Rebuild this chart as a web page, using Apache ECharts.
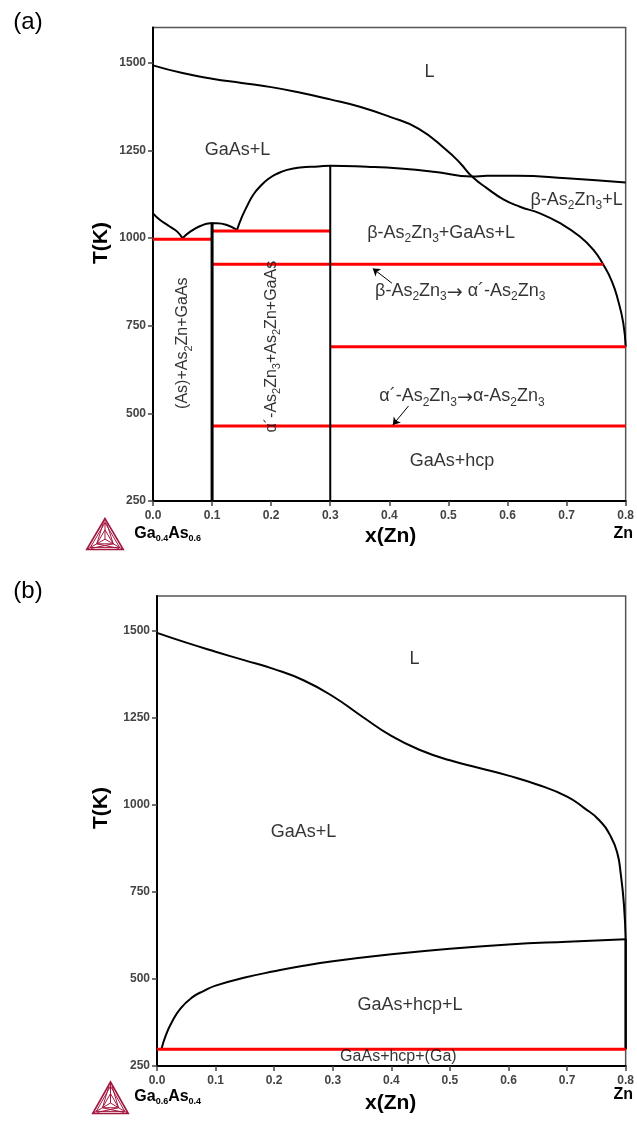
<!DOCTYPE html>
<html>
<head>
<meta charset="utf-8">
<script src="https://cdn.jsdelivr.net/npm/echarts@6/dist/echarts.min.js"></script>
<style>html,body{margin:0;padding:0;background:#fff}#c{width:637px;height:1122px}</style>
</head>
<body>
<div id="c"></div>
<script>
// ---------- tick labels ----------
const xTickValues = [0, 0.1, 0.2, 0.3, 0.4, 0.5, 0.6, 0.7, 0.8];
const yTickValues = [250, 500, 750, 1000, 1250, 1500];

// ---------- panel (a): Ga0.4As0.6 - Zn ----------
const aLiquidus = [[0,1492],[0.05,1470],[0.1,1454],[0.15,1442],[0.2,1430],[0.25,1414],[0.3,1395],[0.35,1374],[0.4,1346],[0.45,1311],[0.497,1250],[0.52,1213],[0.54,1175],[0.565,1142],[0.593,1110],[0.621,1089],[0.655,1070],[0.689,1042],[0.7225,1004],[0.7455,966],[0.7625,923],[0.777,875],[0.787,823],[0.796,757],[0.8,690]];
const aDomeLeft = [[0,1070],[0.012,1051],[0.029,1032],[0.041,1018],[0.05,999]];
const aDomeMid = [[0.05,999],[0.063,1018],[0.08,1034],[0.097,1042],[0.108,1042],[0.125,1037],[0.142,1023]];
const aSolvus = [[0.142,1022],[0.150,1058],[0.159,1090],[0.170,1124],[0.182,1148],[0.195,1168],[0.21,1183],[0.227,1194],[0.249,1201],[0.28,1204],[0.3,1206],[0.362,1203],[0.418,1198],[0.475,1189],[0.54,1175],[0.565,1177],[0.616,1177],[0.70,1170],[0.8,1158]];
const aVertical1 = [[0.1,1044],[0.1,250]];
const aVertical2 = [[0.3,1206],[0.3,250]];
const aRed1 = [[0,996],[0.1,996]];
const aRed2 = [[0.1,1020],[0.3,1020]];
const aRed3 = [[0.1,925],[0.762,925]];
const aRed4 = [[0.3,690],[0.8,690]];
const aRed5 = [[0.1,464],[0.8,464]];
const aArrows = [[[0.4044,871],[0.372,913]], [[0.4325,521],[0.406,467]]];
const aLabels = ['L','GaAs+L','β-As_2Zn_3+L','β-As_2Zn_3+GaAs+L','β-As_2Zn_3→ α´-As_2Zn_3','α´-As_2Zn_3→α-As_2Zn_3','GaAs+hcp','(As)+As_2Zn+GaAs','α´-As_2Zn_3+As_2Zn+GaAs'];
const aLabelAnchors = [[0.468,1474],[0.143,1250],[0.717,1108],[0.4875,1014],[0.52,849],[0.523,548],[0.506,363],[0.0508,700],[0.201,690]];
const aLabelVertical = [false,false,false,false,false,false,false,true,true];

// ---------- panel (b): Ga0.6As0.4 - Zn ----------
const bLiquidus = [[0,1494],[0.05,1466],[0.1,1440],[0.15,1415],[0.2,1390],[0.25,1358],[0.3,1312],[0.35,1254],[0.4,1198],[0.45,1157],[0.5,1128],[0.55,1106],[0.6,1084],[0.65,1058],[0.7,1024],[0.73,990],[0.755,956],[0.775,908],[0.786,860],[0.7915,803],[0.797,715],[0.8,615]];
const bSolidus = [[0.008,301],[0.015,338],[0.025,375],[0.04,415],[0.06,447],[0.08,466],[0.1,481],[0.15,504],[0.2,522],[0.25,538],[0.3,551],[0.4,571],[0.5,587],[0.6,599],[0.7,607],[0.8,614]];
const bVertical = [[0.8,615],[0.8,298]];
const bRed = [[0,298],[0.8,298]];
const bLabels = ['L','GaAs+L','GaAs+hcp+L','GaAs+hcp+(Ga)'];
const bLabelAnchors = [[0.4395,1420],[0.25,923],[0.432,425],[0.412,278]];
const bLabelSmall = [false,false,false,true];

// ---------- styling ----------
const FONT = '"Liberation Sans", Arial, Helvetica, sans-serif';
const RED = '#ff0000';
const LOGO = '#a3173f';

function chem(s, m, sub, ar) {
  let out = '', buf = '';
  const flush = () => { if (buf) { out += '{' + m + '|' + buf + '}'; buf = ''; } };
  for (let i = 0; i < s.length; i++) {
    if (s[i] === '_') {
      flush();
      out += '{' + sub + '|' + s[i + 1] + '}';
      i++;
    } else if (s[i] === '→') {
      flush();
      out += '{' + ar + '|→}';
    } else buf += s[i];
  }
  flush();
  return out;
}

const rich = {
  m: {fontSize: 18, fontFamily: FONT, color: '#000', lineHeight: 24},
  s: {fontSize: 12, fontFamily: FONT, color: '#000', lineHeight: 12, verticalAlign: 'bottom'},
  ar: {fontSize: 19, fontFamily: '"DejaVu Sans", sans-serif', color: '#000', lineHeight: 24, padding: [4, 0, 0, 0]},
  m16: {fontSize: 16, fontFamily: FONT, color: '#000', lineHeight: 22},
  s16: {fontSize: 11, fontFamily: FONT, color: '#000', lineHeight: 11, verticalAlign: 'bottom'},
  ar16: {fontSize: 16, fontFamily: '"DejaVu Sans", sans-serif', color: '#000', lineHeight: 22}
};

function lineS(data, g, color, width, smooth, z) {
  return {type: 'line', xAxisIndex: g, yAxisIndex: g, data: data, symbol: 'none', showSymbol: false,
    smooth: smooth, silent: true, animation: false, z: z || 2,
    lineStyle: {color: color, width: width, cap: 'butt'}};
}

function xAx(g) {
  return {type: 'value', gridIndex: g, min: 0, max: 0.8, interval: 0.1,
    axisLine: {show: true, onZero: false, lineStyle: {color: '#000', width: 2}},
    axisTick: {show: true, length: 5, customValues: xTickValues, lineStyle: {color: '#444', width: 1.5}},
    axisLabel: {show: true, customValues: xTickValues, formatter: v => Number(v).toFixed(1),
      color: '#444', fontWeight: 'bold', fontSize: 12, fontFamily: FONT, margin: 9},
    splitLine: {show: false}};
}
function yAx(g) {
  return {type: 'value', gridIndex: g, min: 250, max: 1600, interval: 250,
    axisLine: {show: true, onZero: false, lineStyle: {color: '#000', width: 2}},
    axisTick: {show: true, length: 5, customValues: yTickValues, lineStyle: {color: '#444', width: 1.5}},
    axisLabel: {show: true, customValues: yTickValues, formatter: v => String(Math.round(v)),
      color: '#444', fontWeight: 'bold', fontSize: 12, fontFamily: FONT, margin: 7},
    splitLine: {show: false}};
}

function labelSeries(g, texts, anchors, opts) {
  return {type: 'scatter', xAxisIndex: g, yAxisIndex: g, symbolSize: 0, silent: true, animation: false, z: 5,
    label: {show: true, position: 'inside', color: '#000', rich: rich},
    data: texts.map((t, i) => {
      const small = opts[i];
      const vertical = small && g === 0;
      return {value: anchors[i], label: {
        formatter: small ? chem(t, 'm16', 's16', 'ar16') : chem(t, 'm', 's', 'ar'),
        rotate: vertical ? 90 : 0}};
    })};
}

function arrowSeries(g, arrows) {
  return {type: 'lines', coordinateSystem: 'cartesian2d', xAxisIndex: g, yAxisIndex: g, silent: true,
    animation: false, z: 6, symbol: ['none', 'arrow'], symbolSize: 7,
    lineStyle: {color: '#000', width: 1, opacity: 1, curveness: 0},
    data: arrows.map(c => ({coords: c}))};
}

function logo(cx, top, w, h) {
  const A = [cx, top], B = [cx - w / 2, top + h], C = [cx + w / 2, top + h];
  const G = [cx, top + h * 2 / 3];
  const sc = (p, k) => [G[0] + (p[0] - G[0]) * k, G[1] + (p[1] - G[1]) * k];
  const st = {fill: 'none', stroke: LOGO, lineWidth: 1.6};
  const st2 = {fill: 'none', stroke: LOGO, lineWidth: 1};
  return [
    {type: 'polygon', shape: {points: [A, B, C]}, style: st, silent: true},
    {type: 'polygon', shape: {points: [sc(A, 0.8), sc(B, 0.8), sc(C, 0.8)]}, style: st2, silent: true},
    {type: 'polygon', shape: {points: [sc(A, 0.45), sc(B, 0.45), sc(C, 0.45)]}, style: st2, silent: true},
    {type: 'polyline', shape: {points: [A, G]}, style: st2, silent: true},
    {type: 'polyline', shape: {points: [B, G]}, style: st2, silent: true},
    {type: 'polyline', shape: {points: [C, G]}, style: st2, silent: true},
    {type: 'polyline', shape: {points: [[A[0] - 1.5, A[1] + 4], sc(B, 0.45)]}, style: st2, silent: true},
    {type: 'polyline', shape: {points: [[A[0] + 1.5, A[1] + 4], sc(C, 0.45)]}, style: st2, silent: true},
    {type: 'polyline', shape: {points: [[B[0] + 4, B[1] - 1], sc(C, 0.45)]}, style: st2, silent: true},
    {type: 'polyline', shape: {points: [[C[0] - 4, C[1] - 1], sc(B, 0.45)]}, style: st2, silent: true}
  ];
}

function txt(x, y, text, font, rot, align) {
  return {type: 'text', x: x, y: y, rotation: rot || 0, silent: true,
    style: {text: text, x: 0, y: 0, font: font, fill: '#000', align: align || 'center', verticalAlign: 'middle'}};
}
function formula(x, y, a, b, c, d) {
  return {type: 'text', x: x, y: y, silent: true,
    style: {text: '{m|' + a + '}{s|' + b + '}{m|' + c + '}{s|' + d + '}', x: 0, y: 0, align: 'left', verticalAlign: 'middle',
      rich: {
        m: {fontSize: 16, fontWeight: 'bold', fontFamily: FONT, fill: '#000', lineHeight: 20},
        s: {fontSize: 9, fontWeight: 'bold', fontFamily: FONT, fill: '#000', lineHeight: 9, verticalAlign: 'bottom'}
      }}};
}

const series = [
  lineS(aLiquidus, 0, '#000', 2, true),
  lineS(aDomeLeft, 0, '#000', 2, true),
  lineS(aDomeMid, 0, '#000', 2, true),
  lineS(aSolvus, 0, '#000', 2, true),
  lineS(aRed1, 0, RED, 3, false, 3),
  lineS(aRed2, 0, RED, 3, false, 3),
  lineS(aRed3, 0, RED, 3, false, 3),
  lineS(aRed4, 0, RED, 3, false, 3),
  lineS(aRed5, 0, RED, 3, false, 3),
  lineS(aVertical1, 0, '#000', 3, false, 4),
  lineS(aVertical2, 0, '#000', 2, false, 4),
  arrowSeries(0, aArrows),
  labelSeries(0, aLabels, aLabelAnchors, aLabelVertical),
  lineS(bLiquidus, 1, '#000', 2, true),
  lineS(bSolidus, 1, '#000', 2, true),
  lineS(bVertical, 1, '#000', 2.5, false),
  lineS(bRed, 1, RED, 3, false, 3),
  labelSeries(1, bLabels, bLabelAnchors, bLabelSmall)
];

const graphics = [].concat(
  [
    txt(28, 22, '(a)', '24px ' + FONT),
    txt(28, 591, '(b)', '24px ' + FONT),
    txt(101.7, 243, 'T(K)', 'bold 21px ' + FONT, Math.PI / 2),
    txt(101.7, 808, 'T(K)', 'bold 21px ' + FONT, Math.PI / 2),
    txt(390.7, 536, 'x(Zn)', 'bold 21px ' + FONT),
    txt(390.7, 1103, 'x(Zn)', 'bold 21px ' + FONT),
    txt(623.3, 534, 'Zn', 'bold 16px ' + FONT),
    txt(623.3, 1095, 'Zn', 'bold 16px ' + FONT),
    formula(134.3, 533.5, 'Ga', '0.4', 'As', '0.6'),
    formula(134.3, 1096.5, 'Ga', '0.6', 'As', '0.4')
  ],
  logo(105, 518.5, 36.6, 31),
  logo(110.5, 1082, 35.6, 31.5)
);

const chart = echarts.init(document.getElementById('c'), null, {renderer: 'canvas'});
chart.setOption({
  animation: false,
  backgroundColor: '#fff',
  textStyle: {fontFamily: FONT},
  grid: [
    {left: 153, top: 27.5, width: 473, height: 473.5, show: true, borderColor: '#555', borderWidth: 1.5, backgroundColor: 'transparent', containLabel: false},
    {left: 157, top: 596, width: 470, height: 470, show: true, borderColor: '#555', borderWidth: 1.5, backgroundColor: 'transparent', containLabel: false}
  ],
  xAxis: [xAx(0), xAx(1)],
  yAxis: [yAx(0), yAx(1)],
  series: series,
  graphic: {elements: graphics}
});
</script>
</body>
</html>
